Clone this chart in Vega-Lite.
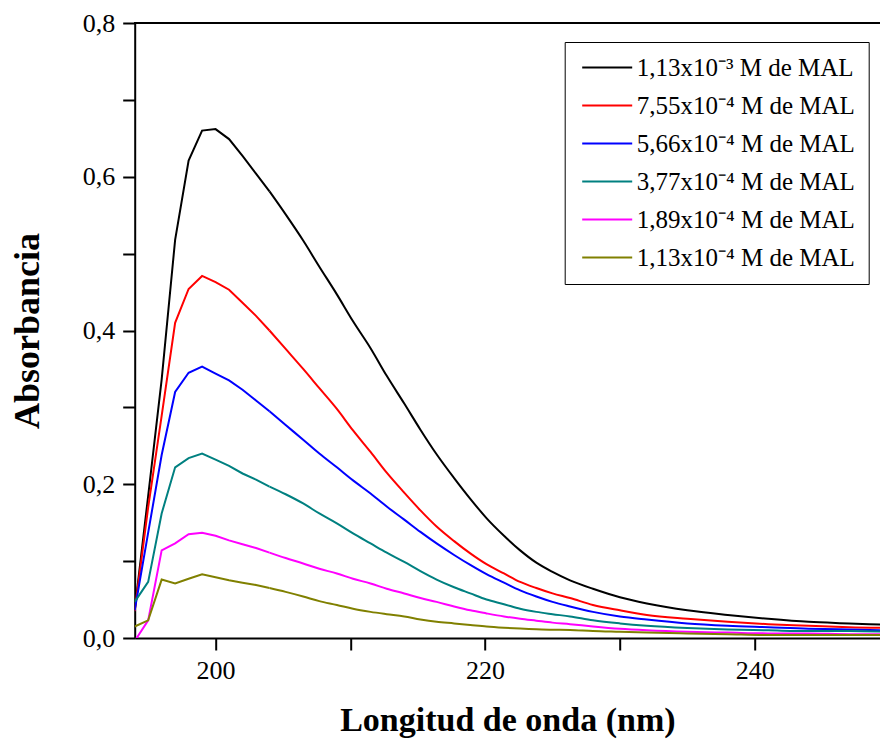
{
  "$schema": "https://vega.github.io/schema/vega-lite/v6.json",
  "autosize": "none",
  "width": 745.3,
  "height": 615,
  "padding": {"left": 134.7, "top": 23, "right": 0, "bottom": 104},
  "background": "white",
  "config": {
    "view": {"stroke": null},
    "font": "Liberation Serif",
    "axis": {
      "grid": false,
      "domainColor": "black",
      "domainWidth": 2,
      "tickColor": "black",
      "tickWidth": 2,
      "tickSize": 12,
      "labelFont": "Liberation Serif",
      "labelFontSize": 26,
      "labelColor": "black",
      "titleFont": "Liberation Serif",
      "titleFontWeight": "bold",
      "titleColor": "black"
    }
  },
  "data": {
    "values": [
      {"nm": 194, "s1": 0.036, "s2": 0.035, "s3": 0.036, "s4": 0.047, "s5": -0.004, "s6": 0.015},
      {"nm": 195, "s1": 0.185, "s2": 0.170, "s3": 0.137, "s4": 0.073, "s5": 0.023, "s6": 0.023},
      {"nm": 196, "s1": 0.336, "s2": 0.289, "s3": 0.238, "s4": 0.162, "s5": 0.114, "s6": 0.076},
      {"nm": 197, "s1": 0.518, "s2": 0.410, "s3": 0.320, "s4": 0.222, "s5": 0.123, "s6": 0.071},
      {"nm": 198, "s1": 0.621, "s2": 0.454, "s3": 0.345, "s4": 0.234, "s5": 0.135, "s6": 0.077},
      {"nm": 199, "s1": 0.660, "s2": 0.471, "s3": 0.353, "s4": 0.240, "s5": 0.137, "s6": 0.083},
      {"nm": 200, "s1": 0.662, "s2": 0.463, "s3": 0.344, "s4": 0.232, "s5": 0.133, "s6": 0.079},
      {"nm": 201, "s1": 0.649, "s2": 0.453, "s3": 0.335, "s4": 0.224, "s5": 0.127, "s6": 0.075},
      {"nm": 202, "s1": 0.627, "s2": 0.436, "s3": 0.323, "s4": 0.214, "s5": 0.122, "s6": 0.072},
      {"nm": 203, "s1": 0.604, "s2": 0.419, "s3": 0.309, "s4": 0.206, "s5": 0.117, "s6": 0.069},
      {"nm": 204, "s1": 0.581, "s2": 0.400, "s3": 0.295, "s4": 0.197, "s5": 0.111, "s6": 0.065},
      {"nm": 205.2, "s1": 0.551, "s2": 0.376, "s3": 0.277, "s4": 0.187, "s5": 0.104, "s6": 0.060},
      {"nm": 206.5, "s1": 0.517, "s2": 0.350, "s3": 0.258, "s4": 0.175, "s5": 0.097, "s6": 0.054},
      {"nm": 207.7, "s1": 0.483, "s2": 0.325, "s3": 0.240, "s4": 0.162, "s5": 0.090, "s6": 0.048},
      {"nm": 209, "s1": 0.447, "s2": 0.298, "s3": 0.222, "s4": 0.149, "s5": 0.084, "s6": 0.043},
      {"nm": 210.2, "s1": 0.412, "s2": 0.270, "s3": 0.205, "s4": 0.136, "s5": 0.077, "s6": 0.038},
      {"nm": 211.5, "s1": 0.377, "s2": 0.242, "s3": 0.188, "s4": 0.123, "s5": 0.071, "s6": 0.034},
      {"nm": 212.7, "s1": 0.341, "s2": 0.215, "s3": 0.171, "s4": 0.111, "s5": 0.064, "s6": 0.031},
      {"nm": 214, "s1": 0.305, "s2": 0.189, "s3": 0.154, "s4": 0.099, "s5": 0.058, "s6": 0.028},
      {"nm": 215.2, "s1": 0.271, "s2": 0.166, "s3": 0.138, "s4": 0.087, "s5": 0.052, "s6": 0.024},
      {"nm": 216.4, "s1": 0.239, "s2": 0.145, "s3": 0.123, "s4": 0.076, "s5": 0.047, "s6": 0.021},
      {"nm": 217.7, "s1": 0.208, "s2": 0.126, "s3": 0.108, "s4": 0.066, "s5": 0.041, "s6": 0.019},
      {"nm": 218.9, "s1": 0.181, "s2": 0.110, "s3": 0.095, "s4": 0.058, "s5": 0.036, "s6": 0.017},
      {"nm": 220.1, "s1": 0.156, "s2": 0.096, "s3": 0.083, "s4": 0.050, "s5": 0.032, "s6": 0.015},
      {"nm": 221.4, "s1": 0.133, "s2": 0.084, "s3": 0.072, "s4": 0.044, "s5": 0.028, "s6": 0.0134},
      {"nm": 222.6, "s1": 0.114, "s2": 0.073, "s3": 0.062, "s4": 0.038, "s5": 0.025, "s6": 0.0122},
      {"nm": 223.8, "s1": 0.098, "s2": 0.065, "s3": 0.054, "s4": 0.034, "s5": 0.0225, "s6": 0.0113},
      {"nm": 225, "s1": 0.086, "s2": 0.058, "s3": 0.047, "s4": 0.031, "s5": 0.020, "s6": 0.0108},
      {"nm": 226.3, "s1": 0.075, "s2": 0.052, "s3": 0.041, "s4": 0.028, "s5": 0.018, "s6": 0.0104},
      {"nm": 228, "s1": 0.064, "s2": 0.043, "s3": 0.034, "s4": 0.023, "s5": 0.015, "s6": 0.009},
      {"nm": 230, "s1": 0.053, "s2": 0.036, "s3": 0.028, "s4": 0.019, "s5": 0.012, "s6": 0.008},
      {"nm": 232, "s1": 0.045, "s2": 0.030, "s3": 0.024, "s4": 0.016, "s5": 0.010, "s6": 0.007},
      {"nm": 235, "s1": 0.036, "s2": 0.025, "s3": 0.019, "s4": 0.013, "s5": 0.008, "s6": 0.006},
      {"nm": 238, "s1": 0.030, "s2": 0.021, "s3": 0.016, "s4": 0.011, "s5": 0.007, "s6": 0.005},
      {"nm": 241, "s1": 0.025, "s2": 0.018, "s3": 0.014, "s4": 0.010, "s5": 0.006, "s6": 0.004},
      {"nm": 244, "s1": 0.021, "s2": 0.016, "s3": 0.012, "s4": 0.009, "s5": 0.006, "s6": 0.004},
      {"nm": 247, "s1": 0.019, "s2": 0.014, "s3": 0.011, "s4": 0.009, "s5": 0.005, "s6": 0.004},
      {"nm": 250, "s1": 0.017, "s2": 0.013, "s3": 0.010, "s4": 0.008, "s5": 0.005, "s6": 0.004}
    ]
  },
  "layer": [
    {
      "transform": [{"fold": ["s1", "s2", "s3", "s4", "s5", "s6"], "as": ["serie", "A"]}],
      "encoding": {
        "x": {
          "field": "nm", "type": "quantitative",
          "scale": {"domain": [194, 249.3], "nice": false, "zero": false},
          "axis": {
            "title": "Longitud de onda (nm)",
            "titleFontSize": 34,
            "values": [200, 210, 220, 230, 240],
            "labelExpr": "datum.value % 20 == 0 ? datum.label : ''",
            "labelPadding": 7,
            "titlePadding": 20
          }
        },
        "y": {
          "field": "A", "type": "quantitative",
          "scale": {"domain": [0, 0.8], "nice": false},
          "axis": {
            "title": "Absorbancia",
            "titleFontSize": 36,
            "values": [0, 0.1, 0.2, 0.3, 0.4, 0.5, 0.6, 0.7, 0.8],
            "labelExpr": "round(datum.value * 10) % 2 == 0 ? replace(format(datum.value, '.1f'), '.', ',') : ''",
            "labelPadding": 8,
            "titlePadding": 36
          }
        },
        "color": {
          "field": "serie", "type": "nominal",
          "scale": {
            "domain": ["s1", "s2", "s3", "s4", "s5", "s6"],
            "range": ["#000000", "#ff0000", "#0000ff", "#008080", "#ff00ff", "#808000"]
          },
          "legend": {
            "title": null,
            "orient": "none",
            "legendX": 430,
            "legendY": 19,
            "strokeColor": "black",
            "fillColor": "white",
            "padding": 13,
            "labelFont": "Liberation Serif",
            "labelFontSize": 25,
            "labelColor": "black",
            "labelLimit": 0,
            "labelOffset": 34,
            "symbolType": "M-1.6,0H8.4",
            "symbolSize": 100,
            "symbolStrokeWidth": 2,
            "rowPadding": 12,
            "labelExpr": "datum.label == 's1' ? '1,13x10⁻³ M de MAL' : datum.label == 's2' ? '7,55x10⁻⁴ M de MAL' : datum.label == 's3' ? '5,66x10⁻⁴ M de MAL' : datum.label == 's4' ? '3,77x10⁻⁴ M de MAL' : datum.label == 's5' ? '1,89x10⁻⁴ M de MAL' : '1,13x10⁻⁴ M de MAL'"
          }
        }
      },
      "layer": [
        {
          "transform": [{"filter": "datum.nm <= 204"}],
          "mark": {"type": "line", "strokeWidth": 2, "clip": true}
        },
        {
          "transform": [{"filter": "datum.nm >= 204"}],
          "mark": {"type": "line", "strokeWidth": 2, "clip": true, "interpolate": "monotone"}
        }
      ]
    },
    {
      "mark": {"type": "rule", "color": "black", "strokeWidth": 2},
      "encoding": {"y": {"datum": 0.8}}
    }
  ]
}
